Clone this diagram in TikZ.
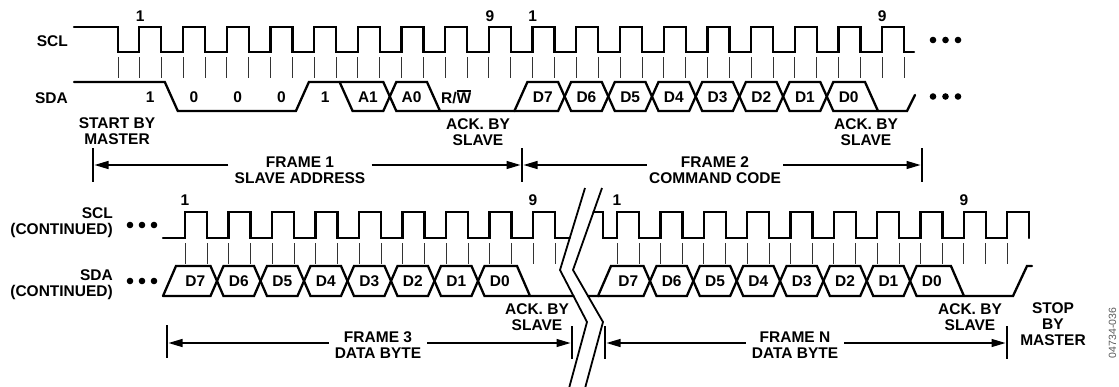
\documentclass[tikz,border=0pt]{standalone}
\usepackage{fontspec}
\setmainfont{Liberation Sans}
\usetikzlibrary{arrows.meta}
\newcommand\myoverline[1]{\leavevmode\vbox{\hrule height 1.3pt \kern 1.2pt \hbox{#1}}}
\begin{document}
\begin{tikzpicture}[x=1pt,y=-1pt,
  declare function={tr(\k)=139.3+(\k-1)*43.7; tc(\k)=171.3+(\k-1)*43.7;
    br(\k)=185+(\k-1)*43.5; bc(\k)=217+(\k-1)*43.5;
    nr(\k)=617+(\k-1)*43.35; nc(\k)=650+(\k-1)*43.35;},
  sig/.style={line width=2.3pt, line cap=round},
  tick/.style={line width=0.9pt, black!80},
  lab/.style={font=\fontsize{15.5}{16}\selectfont\bfseries, inner sep=0pt, align=center},
  arr/.style={line width=1.3pt, -{Triangle[length=14pt,width=8pt]}, shorten >=1.5pt},
  bar/.style={line width=1.2pt},
  brk/.style={line width=1.8pt}]
\useasboundingbox (0,0) rectangle (1119,386);

% ---------- top SCL ----------
\draw[sig] (74,27) -- (118,27) -- (118,52)
  foreach \k [evaluate=\k as \rr using {tr(\k)}] in {1,...,18}
  { -- (\rr,52) -- (\rr,27) -- ({\rr+22},27) -- ({\rr+22},52) } -- (914,52);
\draw[tick] (118,57) -- (118,78);
\foreach \k in {1,...,18}
  \draw[tick] ({tr(\k)},57) -- ({tr(\k)},78) ({tr(\k)+22},57) -- ({tr(\k)+22},78);

% ---------- top SDA ----------
\draw[sig] (74,82) -- ({tc(1)-6.5},82) -- ({tc(1)+6.5},111) -- ({tc(4)-6.5},111)
  -- ({tc(4)+6.5},82) -- ({tc(6)-6.5},82) -- ({tc(6)+6.5},111) -- ({tc(9)-6.5},111)
  -- ({tc(9)+6.5},82)
  foreach \k [evaluate=\k as \xc using {tc(\k)},
              evaluate=\k as \ya using {96.5-14.5*cos(180*\k)},
              evaluate=\k as \yb using {96.5+14.5*cos(180*\k)}] in {10,...,16}
  { -- ({\xc-6.5},\ya) -- ({\xc+6.5},\yb) }
  -- ({tc(17)+7.5},111) -- (907,111) -- (915,95);
\draw[sig] ({tc(5)-6.5},82) -- ({tc(5)+6.5},111) -- ({tc(6)-6.5},111)
  -- ({tc(6)+6.5},82) -- ({tc(7)-6.5},82) -- ({tc(7)+6.5},111);
\draw[sig] ({tc(9)-6.5},111)
  foreach \k [evaluate=\k as \xc using {tc(\k)},
              evaluate=\k as \ya using {96.5-14.5*cos(180*\k)},
              evaluate=\k as \yb using {96.5+14.5*cos(180*\k)}] in {10,...,16}
  { -- ({\xc-6.5},\yb) -- ({\xc+6.5},\ya) }
  -- ({tc(17)-5.5},82) -- ({tc(17)+7.5},111);

% bit labels top
\foreach \k/\t in {1/1,2/0,3/0,4/0,5/1}
  \node[lab] (tb\k) at ({tr(\k)+11},97) {\t};
\node[lab] (ta1) at ({(tc(5)+tc(6))/2},97) {A1};
\node[lab] (ta0) at ({(tc(6)+tc(7))/2},97) {A0};
\node[lab] (trw) at ({tr(8)+11},97) {R/\myoverline{W}};
\foreach \k/\t in {9/D7,10/D6,11/D5,12/D4,13/D3,14/D2,15/D1,16/D0}
  \node[lab] (td\k) at ({(tc(\k)+tc(\k+1))/2},97) {\t};

% clock numbers top
\node[lab] (n1) at ({tr(1)+1},16) {1};
\node[lab] (n2) at ({tr(9)+1},16) {9};
\node[lab] (n3) at ({tr(10)},16) {1};
\node[lab] (n4) at ({tr(18)},16) {9};

% dots top
\foreach \x in {933,945.5,958} {
  \fill (\x,40) circle[radius=3.3pt];
  \fill (\x,96.5) circle[radius=3.3pt];
}

% left labels
\node[lab, anchor=east] (sclT) at (68,41) {SCL};
\node[lab, anchor=east] (sdaT) at (68,98) {SDA};
\node[lab, anchor=east, align=right] (sclB) at (113,223) {SCL\\(CONTINUED)};
\node[lab, anchor=east, align=right] (sdaB) at (113,285) {SDA\\(CONTINUED)};

% texts under top SDA
\node[lab] (start) at (117,131) {START BY\\MASTER};
\node[lab] (ack1) at (478,132) {ACK. BY\\SLAVE};
\node[lab] (ack2) at (866,132) {ACK. BY\\SLAVE};

% top frame arrows
\coordinate (b1) at (93,165);  \draw[bar] (93,148) -- (93,182);
\coordinate (b2) at (522,165); \draw[bar] (522,148) -- (522,182);
\coordinate (b3) at (922,165); \draw[bar] (922,148) -- (922,182);
\node[lab, inner xsep=6pt] (f1) at (300,170) {FRAME 1\\SLAVE ADDRESS};
\node[lab, inner xsep=2pt] (f2) at (715,170) {FRAME 2\\COMMAND CODE};
\draw[arr] (f1.west |- b1) -- (b1);
\draw[arr] (f1.east |- b2) -- (b2);
\draw[arr] (f2.west |- b2) -- (b2);
\draw[arr] (f2.east |- b3) -- (b3);

% ---------- break ----------
\draw[brk] (585,188) -- (560,270) -- (587,322) -- (568,392);
\draw[brk] (602,188) -- (573,270) -- (603,322) -- (584,392);

% ---------- bottom SCL ----------
\draw[sig] (163,238)
  foreach \k [evaluate=\k as \rr using {br(\k)}] in {1,...,9}
  { -- (\rr,238) -- (\rr,212) -- ({\rr+22},212) -- ({\rr+22},238) } -- (569.8,238);
\draw[sig] (593.5,212) -- (603,212) -- (603,238)
  foreach \k [evaluate=\k as \rr using {nr(\k)}] in {1,...,10}
  { -- (\rr,238) -- (\rr,212) -- ({\rr+22},212) -- ({\rr+22},238) };
\foreach \k in {1,...,9} {
  \draw[tick] ({br(\k)},243) -- ({br(\k)},264) ({br(\k)+22},243) -- ({br(\k)+22},264);
  \draw[tick] ({nr(\k)},243) -- ({nr(\k)},264) ({nr(\k)+22},243) -- ({nr(\k)+22},264);
}
\draw[tick] ({nr(10)},243) -- ({nr(10)},264);

\node[lab] (m1) at ({br(1)},200) {1};
\node[lab] (m2) at ({br(9)},200) {9};
\node[lab] (m3) at ({nr(1)},200) {1};
\node[lab] (m4) at ({nr(9)},200) {9};

% ---------- bottom SDA ----------
\draw[sig] (163,296) -- (176,266)
  foreach \k [evaluate=\k as \xc using {bc(\k)},
              evaluate=\k as \ya using {281+15*cos(180*\k)},
              evaluate=\k as \yb using {281-15*cos(180*\k)}] in {1,...,7}
  { -- ({\xc-6.5},\ya) -- ({\xc+6.5},\yb) }
  -- ({bc(8)+8.5},296) -- (573.5,296);
\draw[sig] (163,296)
  foreach \k [evaluate=\k as \xc using {bc(\k)},
              evaluate=\k as \ya using {281+15*cos(180*\k)},
              evaluate=\k as \yb using {281-15*cos(180*\k)}] in {1,...,7}
  { -- ({\xc-6.5},\yb) -- ({\xc+6.5},\ya) }
  -- ({bc(8)-4.5},266) -- ({bc(8)+8.5},296);

\draw[sig] (588,296) -- (598,296) -- (611,266)
  foreach \k [evaluate=\k as \xc using {nc(\k)},
              evaluate=\k as \ya using {281+15*cos(180*\k)},
              evaluate=\k as \yb using {281-15*cos(180*\k)}] in {1,...,7}
  { -- ({\xc-6.5},\ya) -- ({\xc+6.5},\yb) }
  -- ({nc(8)+10.5},296) -- (1013,296) -- (1027,266) -- (1032,266);
\draw[sig] (598,296)
  foreach \k [evaluate=\k as \xc using {nc(\k)},
              evaluate=\k as \ya using {281+15*cos(180*\k)},
              evaluate=\k as \yb using {281-15*cos(180*\k)}] in {1,...,7}
  { -- ({\xc-6.5},\yb) -- ({\xc+6.5},\ya) }
  -- ({nc(8)-2.5},266) -- ({nc(8)+10.5},296);

\node[lab] (ld1) at ({(173.5+bc(1))/2},281) {D7};
\foreach \k/\t in {2/D6,3/D5,4/D4,5/D3,6/D2,7/D1,8/D0}
  \node[lab] (ld\k) at ({(bc(\k-1)+bc(\k))/2},281) {\t};
\node[lab] (rd1) at ({(606.65+nc(1))/2},281) {D7};
\foreach \k/\t in {2/D6,3/D5,4/D4,5/D3,6/D2,7/D1,8/D0}
  \node[lab] (rd\k) at ({(nc(\k-1)+nc(\k))/2},281) {\t};

% dots bottom
\foreach \x in {130,142,154} {
  \fill (\x,225) circle[radius=3.3pt];
  \fill (\x,281) circle[radius=3.3pt];
}

% bottom texts
\node[lab] (ack3) at (537,317.5) {ACK. BY\\SLAVE};
\node[lab] (ack4) at (970,317.5) {ACK. BY\\SLAVE};
\node[lab] (stop) at (1053,324) {STOP\\BY\\MASTER};

% bottom frame arrows
\coordinate (c1) at (167,343);  \draw[bar] (167,325) -- (167,358);
\coordinate (c2) at (572,343);  \draw[bar] (572,326) -- (572,359);
\coordinate (c3) at (605,343);  \draw[bar] (605,326) -- (605,359);
\coordinate (c4) at (1007,343); \draw[bar] (1007,326) -- (1007,359);
\node[lab, inner xsep=6pt] (f3) at (378,345) {FRAME 3\\DATA BYTE};
\node[lab, inner xsep=6pt] (f4) at (795,345) {FRAME N\\DATA BYTE};
\draw[arr] (f3.west |- c1) -- (c1);
\draw[arr] (f3.east |- c2) -- (c2);
\draw[arr] (f4.west |- c3) -- (c3);
\draw[arr] (f4.east |- c4) -- (c4);

% figure code
\node[font=\fontsize{10.5}{12}\selectfont, text=black!65, rotate=90, inner sep=0pt] (code) at (1112.5,333) {04734-036};
\end{tikzpicture}
\end{document}
